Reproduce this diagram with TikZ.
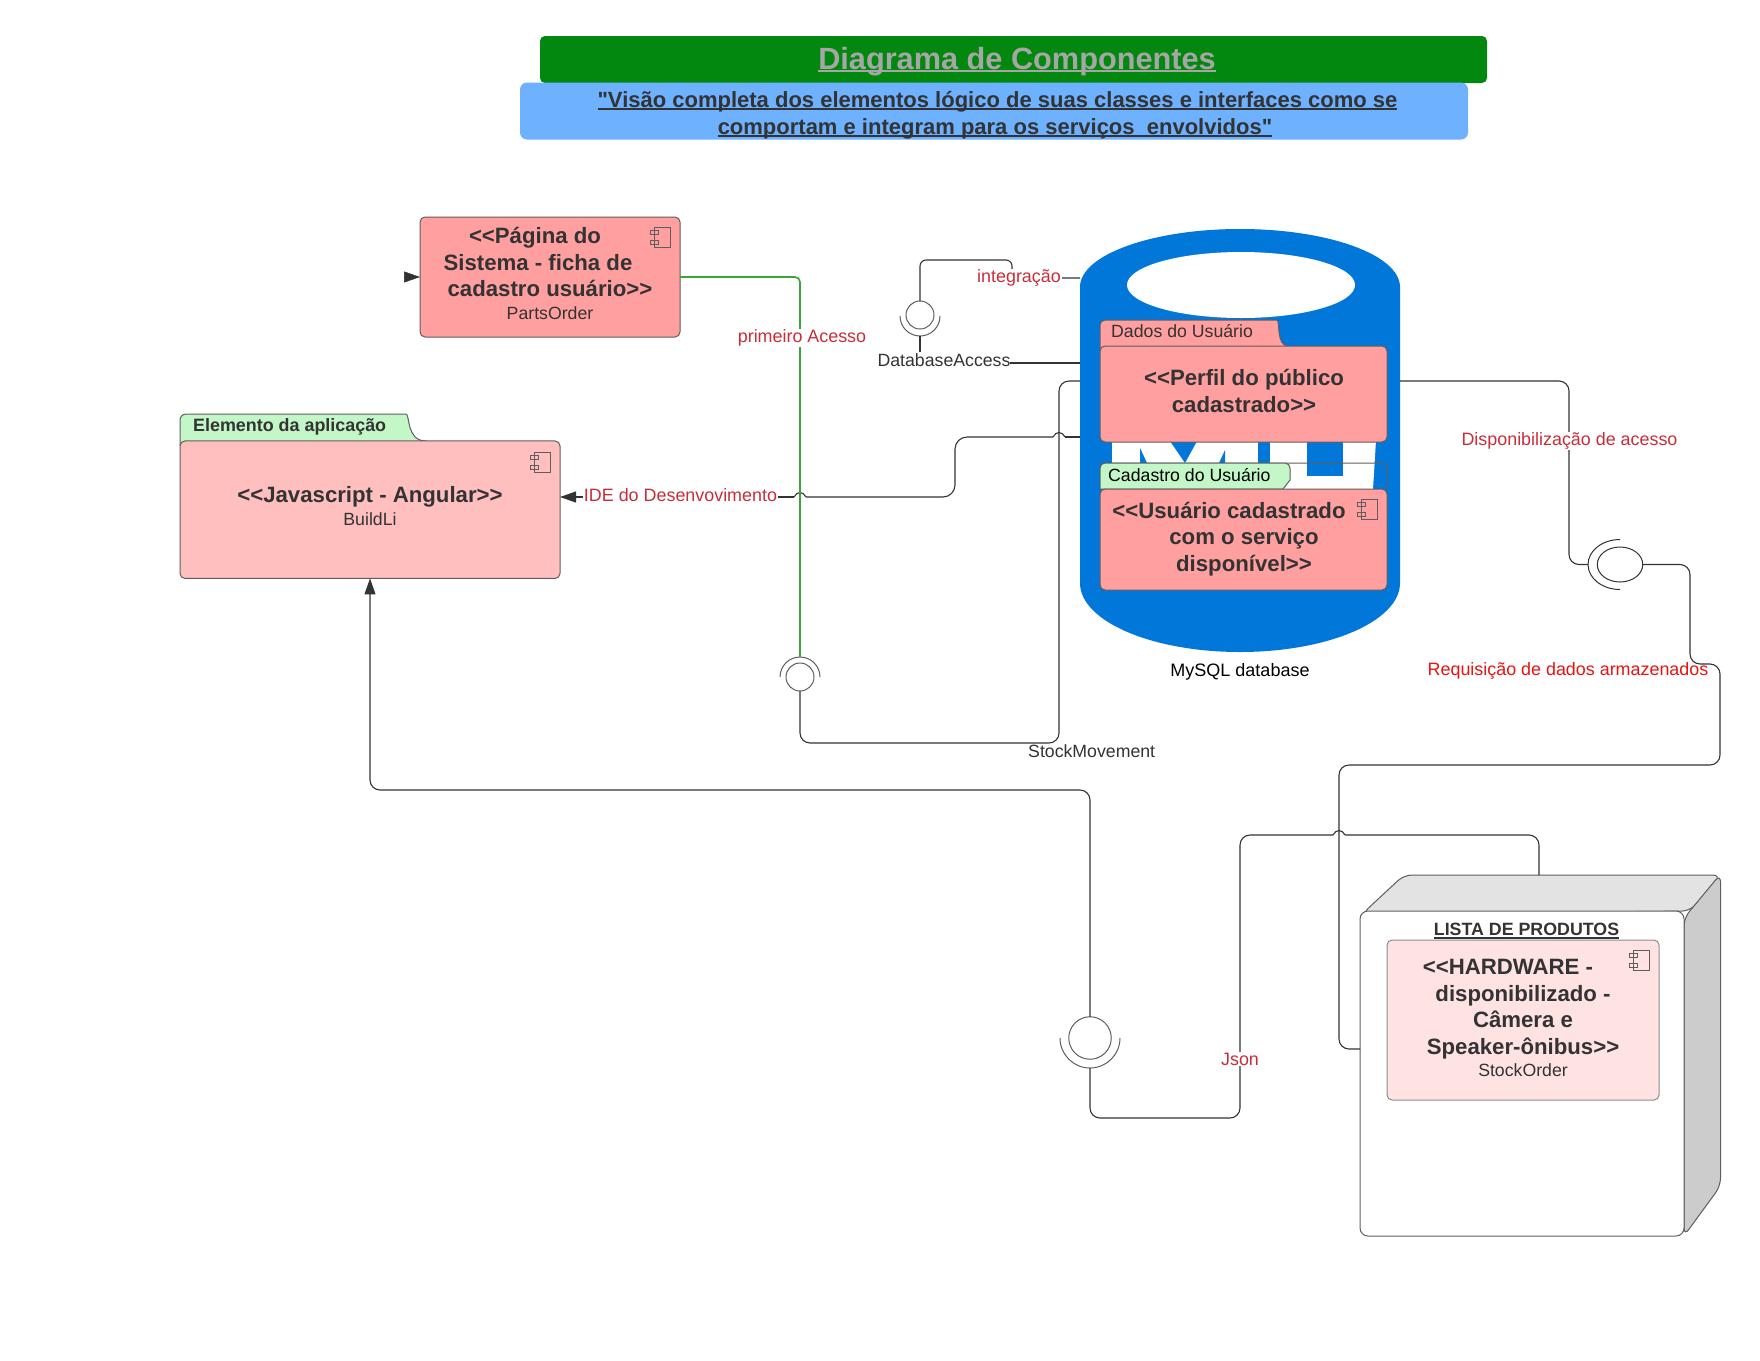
\documentclass[tikz,border=0pt]{standalone}
\usepackage{fontspec}
\setmainfont{Liberation Sans}[Ligatures=TeXOff]
\usetikzlibrary{arrows.meta, shapes.geometric}
\definecolor{inkdark}{HTML}{333333}
\definecolor{edgegray}{HTML}{5E5E5E}
\definecolor{redtext}{HTML}{C92D39}
\definecolor{redbright}{HTML}{E81313}
\definecolor{pinkbox}{HTML}{FF9F9F}
\definecolor{pinklight}{HTML}{FFBFBF}
\definecolor{pinkpale}{HTML}{FFE3E3}
\definecolor{tabgreen}{HTML}{C3F7C8}
\definecolor{dbblue}{HTML}{0077D9}
\definecolor{linegreen}{HTML}{3AA53A}
\definecolor{titlegreen}{HTML}{02880F}
\definecolor{subblue}{HTML}{6DB1FF}
\newcommand{\fsize}[2]{\fontsize{#1}{#2}\selectfont}
\newcommand{\ulined}[1]{\setbox0=\hbox{#1}\rlap{\rule[-2.8pt]{\wd0}{1.7pt}}\box0}
\newcommand{\compicon}[1]{
\begin{scope}[shift={#1}]
\draw[iconline] (4,0) rectangle (20,20);
\draw[iconline] (0,3) rectangle (8,7);
\draw[iconline] (0,13) rectangle (8,17);
\end{scope}
}
\newcommand{\hopat}[2]{\draw[conn, rounded corners=0pt] (#1+6,#2) .. controls (#1+3,#2-6) and (#1-3,#2-6) .. (#1-6,#2);}
\tikzset{
  compbox/.style={draw=edgegray, line width=1pt, rounded corners=5pt, inner sep=0pt, outer sep=0pt},
  boldtext/.style={text=inkdark, align=center, inner sep=0pt, font=\fsize{22.2}{26.7}\bfseries},
  smalltext/.style={text=inkdark, inner sep=0pt, font=\fsize{17.7}{20}},
  redlabel/.style={text=redtext, fill=white, inner sep=1pt, font=\fsize{17.9}{20}},
  conn/.style={draw=inkdark, line width=1.1pt, rounded corners=10pt},
  greenconn/.style={draw=linegreen, line width=1.6pt, rounded corners=5pt},
  iconline/.style={draw=edgegray, line width=0.9pt},
  ifcircle/.style={circle, draw=edgegray, line width=1pt, inner sep=0pt, outer sep=0pt},
  ifsocket/.style={draw=edgegray, line width=1pt},
  tiparrow/.style={-{Triangle[length=16pt,width=11pt]}}
}
\begin{document}
\begin{tikzpicture}[x=1pt,y=-1pt]
\path[use as bounding box, fill=white] (0,0) rectangle (1760,1360);
% title
\node[fill=titlegreen, rounded corners=5pt, minimum width=947, minimum height=47, inner sep=0pt] (titlebar) at (1013.5,59.5) {};
\node[fill=subblue, rounded corners=7pt, minimum width=948, minimum height=57, inner sep=0pt] (subbar) at (994,111) {};
\node[anchor=base, text=black!35, inner sep=0pt, font=\fsize{30.7}{32}\bfseries] (titletext) at (1017,69) {\ulined{Diagrama de Componentes}};
\node[anchor=base, text=inkdark, inner sep=0pt, font=\fsize{22}{26}\bfseries] (subtext1) at (997.5,107) {\ulined{"Visão completa dos elementos lógico de suas classes e interfaces como se}};
\node[anchor=base, text=inkdark, inner sep=0pt, font=\fsize{22}{26}\bfseries] (subtext2) at (995,134) {\ulined{comportam e integram para os serviços\ \ envolvidos"}};
% database
\path[fill=dbblue] (1080,287) arc[x radius=160pt,y radius=58pt,start angle=180,end angle=0] -- (1400,583) arc[x radius=160pt,y radius=69pt,start angle=0,end angle=-180] -- cycle;
\node[ellipse, fill=white, minimum width=228, minimum height=66, inner sep=0pt] (dbhole) at (1241,285) {};
\fill[white] (1112,440) -- (1376,440) -- (1373,489) -- (1112,489) -- cycle;
\fill[dbblue] (1140,448) -- (1147,463) -- (1140,463) -- cycle;
\fill[dbblue] (1170,441) -- (1197,441) -- (1185,463) -- cycle;
\fill[dbblue] (1225,450) -- (1225,463) -- (1219,463) -- cycle;
\fill[dbblue] (1258,441) rectangle (1270,463);
\fill[dbblue] (1307,441) rectangle (1343,476);
\node[smalltext, anchor=base, text=black, font=\fsize{18}{20}] (dbname) at (1240,676) {MySQL database};
\coordinate (dbInt) at (1080,278);
\coordinate (dbAcc) at (1080,363);
\coordinate (dbStock) at (1080,381);
\coordinate (dbIde) at (1080,437);
\coordinate (dbDisp) at (1400,381);
% package Dados do Usuario
\draw[draw=edgegray, line width=1pt, fill=pinkbox] (1100,350) [rounded corners=5pt] -- (1100,320) -- (1272,320) [sharp corners] .. controls (1280,320) and (1276,346) .. (1288,346) -- (1288,350) -- cycle;
\node[compbox, fill=pinkbox, minimum width=287, minimum height=96] (dados) at (1243.5,394) {};
\node[smalltext, anchor=base west] (dadostab) at (1111,337) {Dados do Usuário};
\node[boldtext] (dadostext) at (1244,391) {<<Perfil do público\\cadastrado>>};
% package Cadastro do Usuario
\draw[draw=edgegray, line width=1pt, rounded corners=5pt] (1100,489) -- (1100,463) -- (1387,463) -- (1387,489);
\draw[draw=edgegray, line width=1pt, fill=tabgreen, rounded corners=5pt] (1100,489) -- (1100,463) -- (1290,463) [sharp corners] -- (1290,480) -- (1283,489) -- cycle;
\node[compbox, fill=pinkbox, minimum width=287, minimum height=101] (cadastro) at (1243.5,539.5) {};
\node[smalltext, anchor=base west, text=black] (cadastrotab) at (1108,481) {Cadastro do Usuário};
\node[boldtext] (cadastrotext) at (1244,539) {\mbox{<<Usuário cadastrado\kern30pt}\\com o serviço\\disponível>>};
\compicon{(1357,499)}
% page component
\node[compbox, fill=pinkbox, minimum width=260, minimum height=120] (parts) at (550,277) {};
\node[boldtext] (partstext) at (550,262) {\mbox{<<Página do\kern30pt}\\\mbox{Sistema - ficha de\kern24pt}\\cadastro usuário>>};
\node[smalltext, anchor=base] (partsname) at (550,319) {PartsOrder};
\compicon{(650,227)}
\coordinate (partsIn) at (403.5,277);
\draw[tiparrow, draw=inkdark, line width=0.5pt] (partsIn) -- (parts.west);
% application component
\draw[draw=edgegray, line width=1pt, fill=tabgreen] (180,445) [rounded corners=6pt] -- (180,414) -- (400,414) [sharp corners] .. controls (410,414) and (406,441) .. (426,441) -- (426,445) -- cycle;
\node[compbox, fill=pinklight, minimum width=380, minimum height=137.5] (build) at (370,509.7) {};
\node[smalltext, anchor=base west, font=\fsize{17.9}{20}\bfseries] (buildtab) at (193,431) {Elemento da aplicação};
\node[boldtext, anchor=base] (buildtext) at (370,502) {<<Javascript - Angular>>};
\node[smalltext, anchor=base] (buildname) at (370,525) {BuildLi};
\compicon{(530,452)}
% device
\draw[draw=edgegray, line width=1pt, fill=black!11, rounded corners=8pt] (1362,914) -- (1404,875) -- (1721,875) -- (1690,911) -- cycle;
\draw[draw=edgegray, line width=1pt, fill=black!20, rounded corners=8pt] (1684,1236) -- (1684,918) -- (1720.5,874) -- (1720.5,1186) -- cycle;
\node[compbox, fill=white, rounded corners=8pt, minimum width=324, minimum height=325] (device) at (1522,1073.5) {};
\node[anchor=base, inner sep=0pt, text=inkdark, font=\fsize{17.8}{20}\bfseries] (devicename) at (1526.5,935.7) {\ulined{LISTA DE PRODUTOS}};
\node[compbox, fill=pinkpale, minimum width=272, minimum height=160, draw=black!45] (hardware) at (1523,1020) {};
\node[boldtext] (hardwaretext) at (1523,1009) {\mbox{<<HARDWARE -\kern30pt}\\disponibilizado -\\Câmera e\\Speaker-ônibus>>};
\node[smalltext, anchor=base] (hardwarename) at (1523,1076) {StockOrder};
\compicon{(1629,950)}
\coordinate (deviceTop) at (1539,875);
% interfaces
\node[ifcircle, minimum size=28] (ifint) at (920,315) {};
\draw[ifsocket] (900,316) arc[radius=20pt,start angle=180,end angle=360];
\coordinate (ifintLow) at (920,336);
\node[ifcircle, minimum size=28] (ifstock) at (800,677) {};
\draw[ifsocket] (780,677) arc[radius=20pt,start angle=180,end angle=0];
\coordinate (ifstockTop) at (800,657);
\node[ifcircle, minimum size=42.5] (ifjson) at (1090,1038) {};
\draw[ifsocket] (1060,1038) arc[radius=30pt,start angle=180,end angle=360];
\coordinate (ifjsonLow) at (1090,1068);
\node[ellipse, draw=inkdark, line width=1pt, minimum width=45.5, minimum height=35, inner sep=0pt, outer sep=0pt] (ifreq) at (1620,564.5) {};
\draw[draw=inkdark, line width=1pt] (1620,539.5) arc[x radius=32pt,y radius=25pt,start angle=90,end angle=270];
\coordinate (ifreqLeft) at (1588,564.5);
% connectors
\draw[conn, rounded corners=6pt] (dbInt) -- (1012,278) -- (1012,260) -- (920,260) -- (ifint.north);
\draw[conn, line width=1.6pt] (ifintLow) -- (920,352);
\draw[conn, line width=1.1pt] (dbStock) -- (1059,381) -- (1059,743) -- (800,743) -- (ifstock.south);
\draw[conn] (dbIde) -- (1065,437);
\hopat{1059}{437}
\draw[conn, rounded corners=12pt] (1053,437) -- (955,437) -- (955,497) -- (806,497);
\hopat{800}{497}
\draw[conn, tiparrow] (794,497) -- (build.east |- 0,497);
\draw[greenconn] (parts.east) -- (800,277) -- (ifstockTop);
\draw[conn, tiparrow] (ifjson.north) -- (1090,790) -- (370,790) -- (build.south);
\draw[conn] (deviceTop) -- (1539,835) -- (1345,835);
\hopat{1339}{835}
\draw[conn] (1333,835) -- (1240,835) -- (1240,1118) -- (1090,1118) -- (ifjsonLow);
\draw[conn] (dbDisp) -- (1569,381) -- (1569,564.5) -- (ifreqLeft);
\draw[conn] (ifreq.east) -- (1690,564.5) -- (1690,664) -- (1720,664) -- (1720,765) -- (1339,765) -- (1339,1049) -- (device.west |- 0,1049);
\draw[conn, line width=1.8pt, rounded corners=0pt] (1010,363) -- (dbAcc);
% labels
\node[redlabel] (lblprimeiro) at (802,338) {primeiro Acesso};
\node[redlabel] (lblint) at (1019,278) {integração};
\node[redlabel] (lblide) at (680.5,495) {IDE do Desenvovimento};
\node[redlabel] (lbldisp) at (1569.5,441) {Disponibilização de acesso};
\node[redlabel] (lbljson) at (1240,1059) {Json};
\node[redlabel, text=redbright, fill=none] (lblreq) at (1568,671) {Requisição de dados armazenados};
\node[smalltext, anchor=base] (lbldba) at (944,366) {DatabaseAccess};
\node[smalltext, anchor=base west] (lblstock) at (1028,757.5) {StockMovement};
\end{tikzpicture}
\end{document}
